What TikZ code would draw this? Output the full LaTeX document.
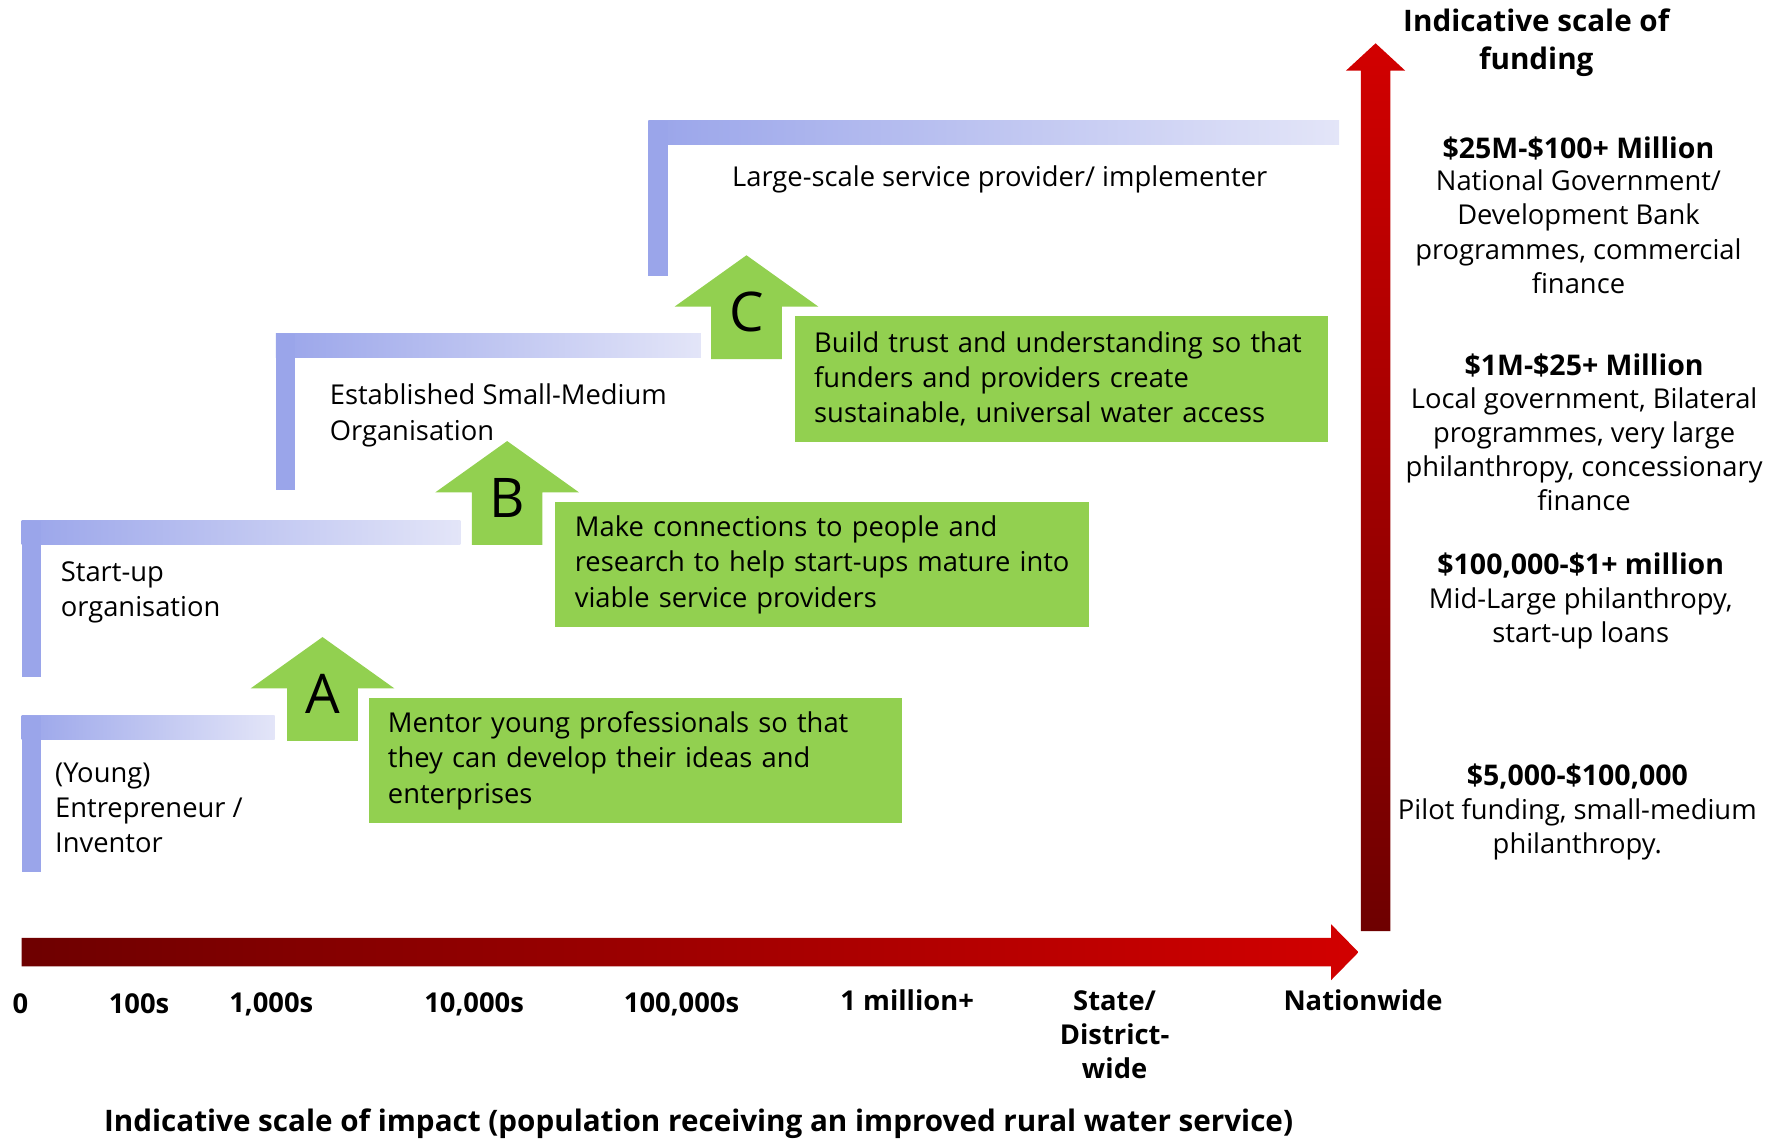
\documentclass[tikz,border=0pt]{standalone}
\usepackage{fontspec}
\setmainfont{Open Sans}
\usetikzlibrary{positioning}

\definecolor{barblue}{HTML}{9AA5EA}
\definecolor{barpale}{HTML}{E3E5F8}
\definecolor{leafgreen}{HTML}{92D050}
\definecolor{darkred}{HTML}{6E0000}
\definecolor{brightred}{HTML}{D20000}

\tikzset{
  stagetext/.style={inner sep=0pt, align=left, font=\fontsize{12}{15.5}\selectfont},
  actionbox/.style={fill=leafgreen, anchor=north west, align=left, inner xsep=8.5pt,
    minimum height=55pt, font=\fontsize{12}{15.5}\selectfont},
  steplabel/.style={inner sep=0pt, font=\fontsize{24}{24}\selectfont},
  axislabel/.style={inner sep=0pt, align=center, font=\bfseries\fontsize{12}{15}\selectfont},
  fundhead/.style={inner sep=0pt, align=center, font=\bfseries\fontsize{12.5}{15}\selectfont},
  fundtext/.style={inner sep=0pt, align=center, font=\fontsize{12}{15}\selectfont}
}

\begin{document}
\begin{tikzpicture}[x=0.5pt,y=-0.5pt]
    \useasboundingbox (0,0) rectangle (1568,1001);

    \foreach \xl/\yt/\xr/\yb in {19/628/241/765, 19/457/404/594, 242/293/615/430, 569/106/1175/242} {
        \shade[left color=barblue, right color=barpale] (\xl,\yt) rectangle (\xr,\yt+21);
        \fill[barblue] (\xl,\yt) rectangle (\xl+17,\yb);
    }

    \foreach \cx/\ty/\lab in {283/559/A, 445/387/B, 655/224/C} {
        \fill[leafgreen] (\cx-31,\ty+91) -- (\cx-31,\ty+45) -- (\cx-63,\ty+45) -- (\cx,\ty)
            -- (\cx+63,\ty+45) -- (\cx+31,\ty+45) -- (\cx+31,\ty+91) -- cycle;
        \node[steplabel] (step\lab) at (\cx,\ty+50) {\lab};
    }

    \node[actionbox, text width=217pt] (boxA) at (323,612)
        {Mentor young professionals so that\\they can develop their ideas and\\enterprises};
    \node[actionbox, text width=217pt] (boxB) at (487,440)
        {Make connections to people and\\\mbox{research to help start-ups mature into}\\viable service providers};
    \node[actionbox, text width=217pt] (boxC) at (697,277)
        {Build trust and understanding so that\\funders and providers create\\sustainable, universal water access};

    \node[stagetext, anchor=west] (young) at (48,709) {(Young)\\Entrepreneur /\\Inventor};
    \node[stagetext, anchor=west] (startup) at (53,519.5) {Start-up\\organisation};
    \node[stagetext, anchor=west] (established) at (289,364.5) {Established Small-Medium\\Organisation};
    \node[stagetext, anchor=west] (large) at (642,157) {Large-scale service provider/ implementer};

    \shade[left color=darkred, right color=brightred] (19,823) -- (1168,823) -- (1168,811) -- (1192,835.5)
        -- (1168,860) -- (1168,848) -- (19,848) -- cycle;
    \shade[bottom color=darkred, top color=brightred] (1194,817) -- (1194,62) -- (1181,62) -- (1207,38)
        -- (1233,62) -- (1220,62) -- (1220,817) -- cycle;

    \node[axislabel] (ax0) at (18,881) {0};
    \node[axislabel] (ax1) at (122,881) {100s};
    \node[axislabel] (ax2) at (238,881) {1,000s};
    \node[axislabel] (ax3) at (416,881) {10,000s};
    \node[axislabel] (ax4) at (598,881) {100,000s};
    \node[axislabel] (ax5) at (796,878) {1 million+};
    \node[axislabel] (ax6) at (978,908) {State/\\District-\\wide};
    \node[axislabel] (ax7) at (1196,878) {Nationwide};
    \node[axislabel, font=\bfseries\fontsize{13}{15}\selectfont] (impact) at (613,986)
        {Indicative scale of impact (population receiving an improved rural water service)};
    \node[axislabel, font=\bfseries\fontsize{13}{16.5}\selectfont] (funding) at (1348,37.5)
        {Indicative scale of\\funding};

    \node[fundhead] (f1) at (1385,130) {\$25M-\$100+ Million};
    \node[fundtext, below=4pt of f1] (f1t) {National Government/\\Development Bank\\programmes, commercial\\finance};
    \node[fundhead] (f2) at (1390,321) {\$1M-\$25+ Million};
    \node[fundtext, below=4pt of f2] (f2t) {Local government, Bilateral\\programmes, very large\\philanthropy, concessionary\\finance};
    \node[fundhead] (f3) at (1387,496) {\$100,000-\$1+ million};
    \node[fundtext, below=4pt of f3] (f3t) {Mid-Large philanthropy,\\start-up loans};
    \node[fundhead] (f4) at (1384,681) {\$5,000-\$100,000};
    \node[fundtext, below=4pt of f4] (f4t) {Pilot funding, small-medium\\philanthropy.};
\end{tikzpicture}
\end{document}
